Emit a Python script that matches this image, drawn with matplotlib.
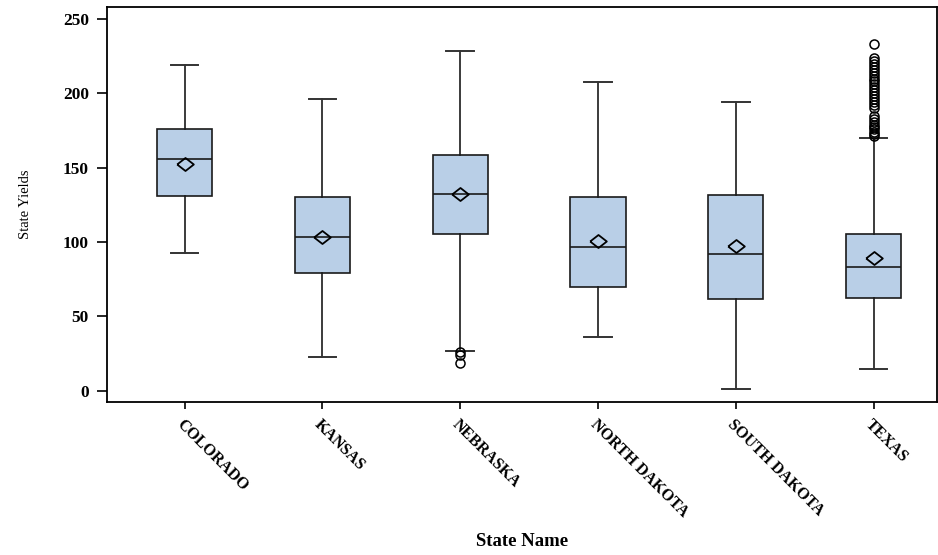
import matplotlib
matplotlib.use("Agg")
import matplotlib.pyplot as plt

# Summary statistics
states = ["COLORADO", "KANSAS", "NEBRASKA", "NORTH DAKOTA", "SOUTH DAKOTA", "TEXAS"]
whisk_lo = [92.4, 22.9, 26.8, 35.9, 1.1, 14.8]
q1 = [131.2, 79.2, 105.4, 69.5, 61.5, 62.6]
medians = [155.8, 103.4, 132.3, 96.9, 91.7, 83.2]
means = [152.3, 103.6, 132.3, 100.7, 97.3, 89.0]
q3 = [175.8, 130.0, 158.5, 130.0, 131.6, 105.2]
whisk_hi = [218.8, 196.0, 228.5, 207.6, 194.4, 169.8]
outliers = [
    [],
    [],
    [25.8, 24.0, 18.8],
    [],
    [],
    [171, 172.5, 174, 176, 177.5, 179, 181, 183, 185, 190, 192, 194,
     196, 198, 200, 202, 204, 206, 208, 210, 212, 214, 216, 218, 220,
     222, 224, 233.5],
]

box_color = "#B9CFE7"

stats = []
for i, s in enumerate(states):
    stats.append({
        "label": s,
        "whislo": whisk_lo[i],
        "q1": q1[i],
        "med": medians[i],
        "mean": means[i],
        "q3": q3[i],
        "whishi": whisk_hi[i],
        "fliers": outliers[i],
    })

plt.rcParams["font.family"] = ["Liberation Serif", "DejaVu Serif"]

fig = plt.figure(figsize=(9.38, 5.55), dpi=100)
ax = fig.add_axes([107 / 938, 1 - 402.3 / 555, (937 - 107) / 938, (402.3 - 6.7) / 555])

diamond = [(-1, 0), (0, 0.78), (1, 0), (0, -0.78), (-1, 0)]
ax.bxp(
    stats,
    positions=range(len(states)),
    widths=0.4,
    patch_artist=True,
    showmeans=True,
    boxprops=dict(facecolor=box_color, edgecolor="#1a1a1a", linewidth=1.2),
    medianprops=dict(color="#1a1a1a", linewidth=1.2),
    whiskerprops=dict(color="#1a1a1a", linewidth=1.2),
    capprops=dict(color="#333333", linewidth=1.4),
    meanprops=dict(marker=diamond, markersize=12, markerfacecolor="none",
                   markeredgecolor="black", markeredgewidth=1.3),
    flierprops=dict(marker="o", markersize=6.5, markerfacecolor="none",
                    markeredgecolor="black", markeredgewidth=1.1),
)

ax.set_xlim(-0.564, 5.46)
ax.set_ylim(-7.8, 258.3)
ax.set_yticks([0, 50, 100, 150, 200, 250])
ax.set_xticks(range(len(states)))
ax.set_xticklabels(states, rotation=-45, ha="left", va="top",
                   rotation_mode="anchor", fontsize=11.5, fontweight="bold")
for lbl in ax.get_yticklabels():
    lbl.set_fontsize(12.5)
    lbl.set_fontweight("bold")

ax.tick_params(axis="y", length=7, width=1.2, pad=6)
ax.tick_params(axis="x", length=5, width=1.2, pad=5)
for sp in ax.spines.values():
    sp.set_linewidth(1.3)

ax.set_ylabel("State Yields", fontsize=10.5, labelpad=22)
ax.set_xlabel("State Name", fontsize=13.5, fontweight="bold", labelpad=9)

fig.savefig("out.png", dpi=100)
